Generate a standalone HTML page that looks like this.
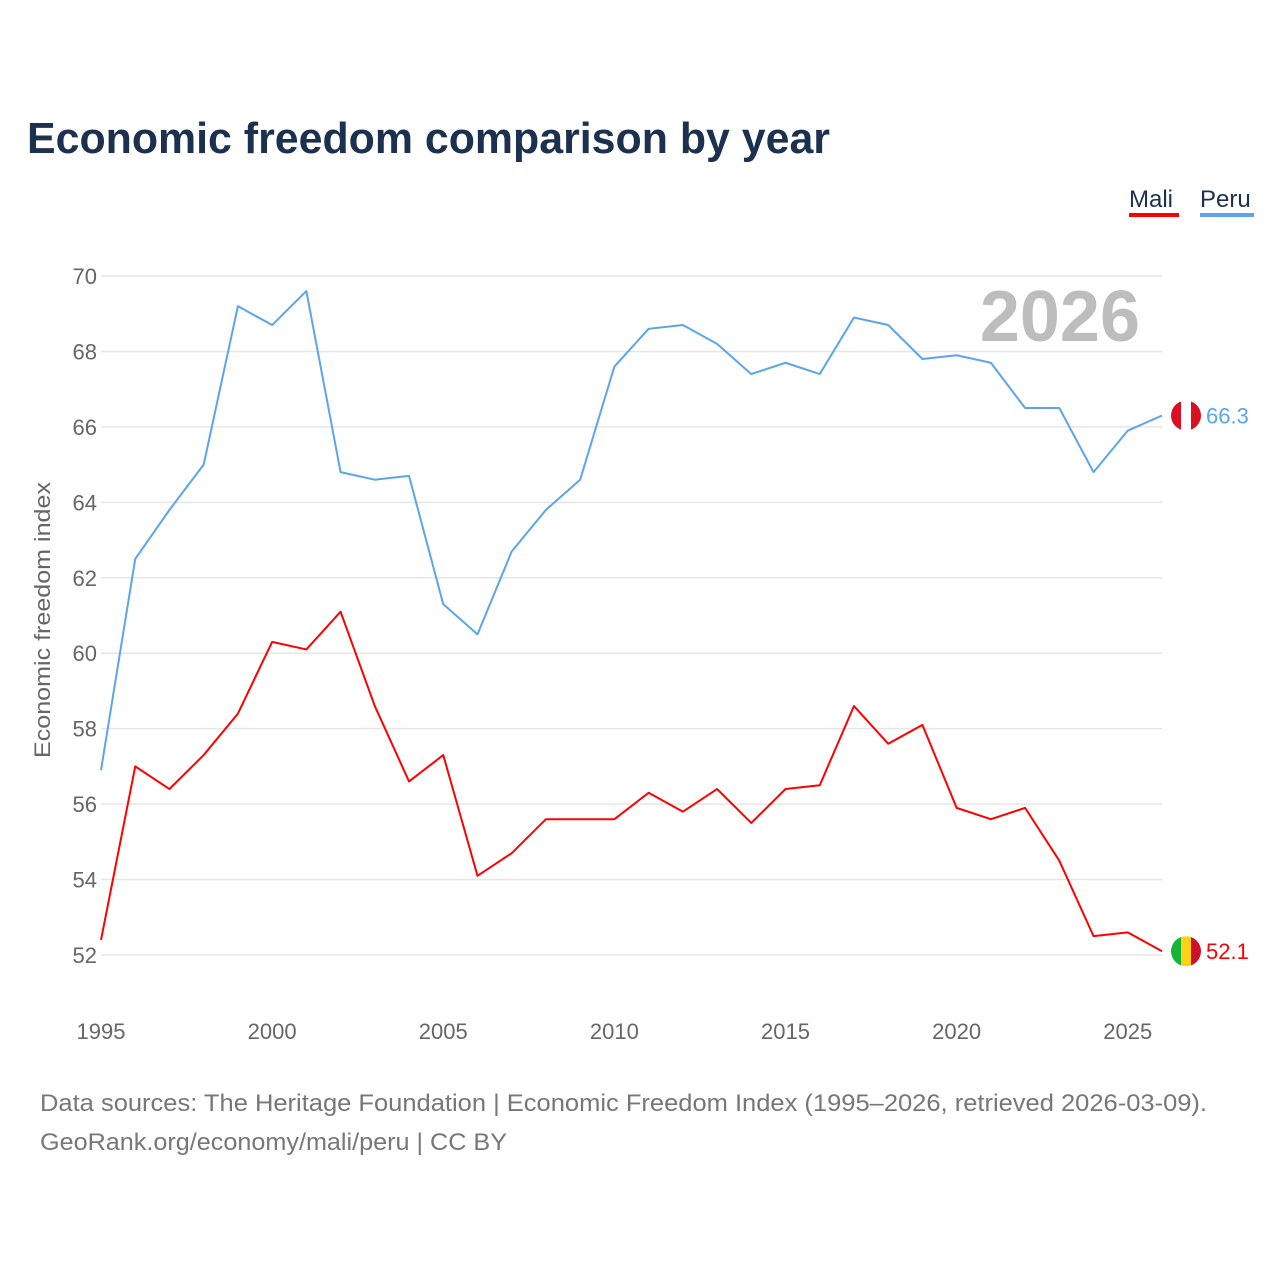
<!DOCTYPE html>
<html><head><meta charset="utf-8">
<style>
body{margin:0;background:#fff;font-family:"Liberation Sans",sans-serif;}
svg{display:block}
</style></head>
<body>
<svg id="chart" width="1280" height="1280" viewBox="0 0 1280 1280">
<text x="27" y="153" font-size="44" font-weight="bold" fill="#1c3050" textLength="803" lengthAdjust="spacingAndGlyphs">Economic freedom comparison by year</text>
<g>
<text x="1129" y="207" font-size="24" fill="#1c3050">Mali</text>
<rect x="1129" y="213" width="50" height="4" fill="#ff0000"/>
<text x="1200" y="207" font-size="24" fill="#1c3050">Peru</text>
<rect x="1200" y="213" width="54" height="4" fill="#5ba5ec"/>
</g>
<g id="grid"></g>
<text x="1140" y="341" font-size="72" font-weight="bold" fill="#bdbdbd" text-anchor="end">2026</text>
<text transform="translate(50,620) rotate(-90)" font-size="22" fill="#666" text-anchor="middle" textLength="276" lengthAdjust="spacingAndGlyphs">Economic freedom index</text>
<g id="series"></g>
<text x="40" y="1111" font-size="24" fill="#777" textLength="1167" lengthAdjust="spacingAndGlyphs">Data sources: The Heritage Foundation | Economic Freedom Index (1995–2026, retrieved 2026-03-09).</text>
<text x="40" y="1150" font-size="24" fill="#777" textLength="467" lengthAdjust="spacingAndGlyphs">GeoRank.org/economy/mali/peru | CC BY</text>
</svg>
<script>
const years = [1995,1996,1997,1998,1999,2000,2001,2002,2003,2004,2005,2006,2007,2008,2009,2010,2011,2012,2013,2014,2015,2016,2017,2018,2019,2020,2021,2022,2023,2024,2025,2026];
const peru = [56.9,62.5,63.8,65.0,69.2,68.7,69.6,64.8,64.6,64.7,61.3,60.5,62.7,63.8,64.6,67.6,68.6,68.7,68.2,67.4,67.7,67.4,68.9,68.7,67.8,67.9,67.7,66.5,66.5,64.8,65.9,66.3];
const mali = [52.4,57.0,56.4,57.3,58.4,60.3,60.1,61.1,58.6,56.6,57.3,54.1,54.7,55.6,55.6,55.6,56.3,55.8,56.4,55.5,56.4,56.5,58.6,57.6,58.1,55.9,55.6,55.9,54.5,52.5,52.6,52.1];
const yTicks = [52,54,56,58,60,62,64,66,68,70];
const xTicks = [1995,2000,2005,2010,2015,2020,2025];

const NS="http://www.w3.org/2000/svg";
const x = v => 101 + (v-1995)*(1162-101)/31;
const y = v => 955 - (v-52)*(955-276)/18;
function mk(tag, attrs, parent){const e=document.createElementNS(NS,tag);for(const k in attrs)e.setAttribute(k,attrs[k]);parent.appendChild(e);return e;}
const grid=document.getElementById('grid');
yTicks.forEach(t=>{
  const l=mk('line',{x1:101,x2:1162,y1:y(t),y2:y(t),stroke:'#e6e6e6','stroke-width':1.5},grid);
  
  
  const tx=mk('text',{x:97,y:y(t)+8,'font-size':22,fill:'#666','text-anchor':'end'},grid);
  tx.textContent=t;
  
  
});
xTicks.forEach(t=>{
  const tx=mk('text',{x:x(t),y:1039,'font-size':22,fill:'#666','text-anchor':'middle'},grid);
  tx.textContent=t;
  
  
});
const series=document.getElementById('series');
function drawSeries(vals,color,name,flag){
  const p=mk('polyline',{points:vals.map((v,i)=>x(years[i])+','+y(v)).join(' '),fill:'none',stroke:color,'stroke-width':2,'stroke-linejoin':'round'},series);
  
  
  const last=vals[vals.length-1], cx=x(years[years.length-1])+24, cy=y(last);
  const g=mk('g',{},series);
  
  
  const cp=mk('clipPath',{id:'clip-'+name},g);
  mk('circle',{cx:cx,cy:cy,r:15},cp);
  flag.forEach((c,i)=>mk('rect',{x:cx-15+i*10,y:cy-15,width:10.5,height:30,fill:c,'clip-path':'url(#clip-'+name+')'},g));
  const t=mk('text',{x:cx+20,y:cy+8,'font-size':22,fill:color},series);
  t.textContent=last.toFixed(1);
  
  
}
drawSeries(peru,'#5ba5ec','peru',['#d91023','#ffffff','#d91023']);
drawSeries(mali,'#ff0000','mali',['#14b53a','#fcd116','#ce1126']);
</script>
</body></html>
